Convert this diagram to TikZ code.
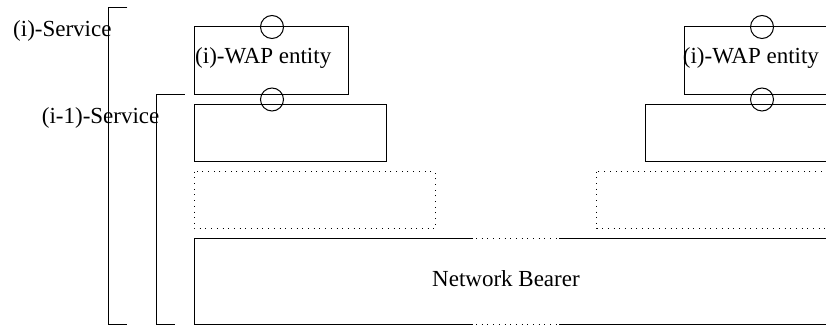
\documentclass[tikz,border=0pt]{standalone}
\usepackage{fontspec}
\usetikzlibrary{calc}
\setmainfont{Liberation Serif}
\begin{document}
\begin{tikzpicture}[x=1pt,y=-1pt,
  solidline/.style={line width=1pt,black},
  dotline/.style={line width=1pt,black,dash pattern=on 1pt off 4.7pt},
  lbl/.style={inner sep=0pt,anchor=base west,font=\fontsize{23}{25}\selectfont},
  port/.style={draw,circle,line width=1pt,minimum size=23pt,inner sep=0pt}]
\useasboundingbox (0,0) rectangle (826,328);
\clip (0,0) rectangle (826,328);
% brackets
\coordinate (b1t) at (108.3,8);
\coordinate (b1b) at (108.3,324.5);
\coordinate (b2t) at (156.7,94.7);
\coordinate (b2b) at (156.7,324.5);
\draw[solidline] ($(b1t)+(19,0)$) -- (b1t) -- (b1b) -- ++(19,0);
\draw[solidline] ($(b2t)+(28,0)$) -- (b2t) -- (b2b) -- ++(18.5,0);
% labels of brackets
\node[lbl] (svc) at (13,36.7) {(i)-Service};
\node[lbl] (svc1) at (41.7,123.3) {(i-1)-Service};
% left WAP entity
\draw[solidline] (194.3,27) rectangle (348.3,95);
\node[lbl] (wapL) at (195,63.3) {(i)-WAP entity};
\draw[solidline] (194.3,104.5) rectangle (386,161.5);
\node[port] (cL1) at (272,27) {};
\node[port] (cL2) at (272,99.5) {};
% right WAP entity
\draw[solidline] (684.3,27) rectangle (840,95);
\node[lbl] (wapR) at (682.7,63.3) {(i)-WAP entity};
\draw[solidline] (645.7,104.5) rectangle (840,161.5);
\node[port] (cR1) at (762,27) {};
\node[port] (cR2) at (762,99.5) {};
% dotted boxes
\draw[dotline] (194.3,171.7) rectangle (435,229);
\draw[dotline] (596.7,171.7) rectangle (840,229);
% network bearer
\draw[solidline] (473,239) -- (194.3,239) -- (194.3,324.5) -- (473,324.5);
\draw[solidline] (559,239) -- (840,239);
\draw[solidline] (559,324.5) -- (840,324.5);
\draw[dotline] (476,239) -- (557,239);
\draw[dotline] (476,324.5) -- (557,324.5);
\node[lbl] (nb) at (432,286.7) {Network Bearer};
\end{tikzpicture}
\end{document}
